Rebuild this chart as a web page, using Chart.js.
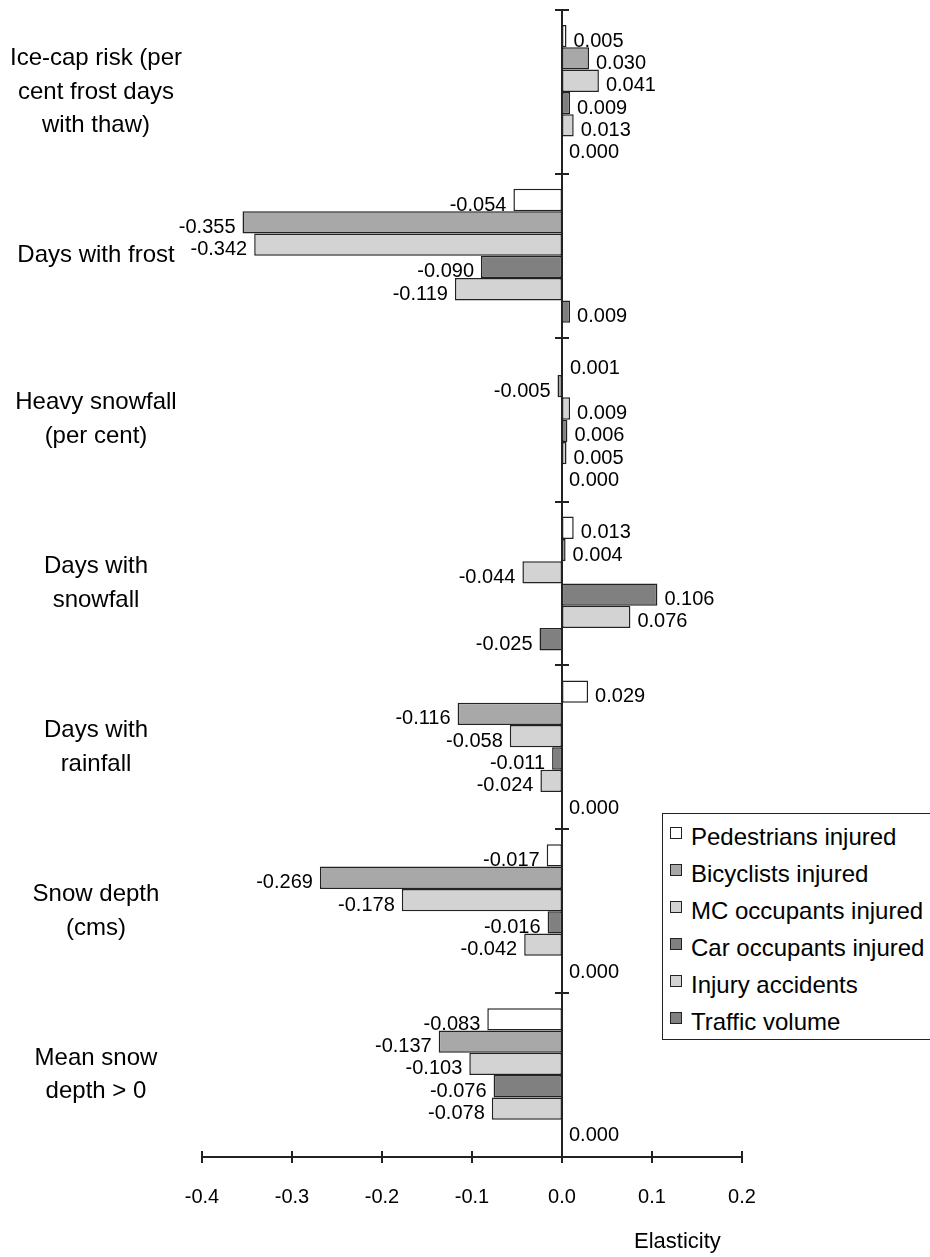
<!DOCTYPE html>
<html>
<head>
<meta charset="utf-8">
<title>Elasticity</title>
<script src="https://cdn.jsdelivr.net/npm/chart.js@4"></script>
<style>
    body { margin: 0; background: #fff; overflow: hidden; }
    #wrap { position: relative; width: 930px; height: 1257px; }
    #legendBox {
        position: absolute; left: 662px; top: 813px; width: 300px; height: 227px;
        border: 1.5px solid #222; background: #fff; padding-top: 4px; box-sizing: border-box;
        font-family: "Liberation Sans", Arial, sans-serif; font-size: 24px; color: #000;
    }
    .legend-row { display: flex; align-items: center; height: 37px; white-space: nowrap; }
    .legend-swatch {
        width: 10px; height: 10px; border: 1.5px solid #222; margin-left: 7px; margin-right: 9px;
        position: relative; top: -4px; flex: none;
    }
</style>
</head>
<body>
<div id="wrap">
    <canvas id="elasticityChart" width="930" height="1257"></canvas>
    <div id="legendBox"></div>
</div>
<script>
const categories = [
    ['Ice-cap risk (per', 'cent frost days', 'with thaw)'],
    'Days with frost',
    ['Heavy snowfall', '(per cent)'],
    ['Days with', 'snowfall'],
    ['Days with', 'rainfall'],
    ['Snow depth', '(cms)'],
    ['Mean snow', 'depth > 0']
];
const seriesNames = ['Pedestrians injured', 'Bicyclists injured', 'MC occupants injured',
    'Car occupants injured', 'Injury accidents', 'Traffic volume'];
const pedestrians = [0.005, -0.054, 0.001, 0.013, 0.029, -0.017, -0.083];
const bicyclists = [0.030, -0.355, -0.005, 0.004, -0.116, -0.269, -0.137];
const mcOccupants = [0.041, -0.342, 0.009, -0.044, -0.058, -0.178, -0.103];
const carOccupants = [0.009, -0.090, 0.006, 0.106, -0.011, -0.016, -0.076];
const injuryAccidents = [0.013, -0.119, 0.005, 0.076, -0.024, -0.042, -0.078];
const trafficVolume = [0.000, 0.009, 0.000, -0.025, 0.000, 0.000, 0.000];
const xTicks = [-0.4, -0.3, -0.2, -0.1, 0.0, 0.1, 0.2];

const fills = ['#ffffff', '#a8a8a8', '#d3d3d3', '#808080', '#d3d3d3', '#808080'];
const allSeries = [pedestrians, bicyclists, mcOccupants, carOccupants, injuryAccidents, trafficVolume];
const ink = '#222';

document.addEventListener('DOMContentLoaded', function() {
    const ctx = document.getElementById('elasticityChart').getContext('2d');
    Chart.defaults.font.family = '"Liberation Sans", Arial, sans-serif';
    Chart.defaults.color = '#000';

    // legend box sits inside the plot, bottom right
    const legendBox = document.getElementById('legendBox');
    seriesNames.forEach((name, i) => {
        const row = document.createElement('div');
        row.className = 'legend-row';
        const sw = document.createElement('span');
        sw.className = 'legend-swatch';
        sw.style.background = fills[i];
        row.appendChild(sw);
        row.appendChild(document.createTextNode(name));
        legendBox.appendChild(row);
    });

    const axesPlugin = {
        id: 'axesAndLabels',
        beforeDatasetsDraw(chart) {
            // value labels go under the bars, as in the original
            const c = chart.ctx;
            c.save();
            c.font = '20px "Liberation Sans", Arial, sans-serif';
            c.fillStyle = '#000';
            c.textBaseline = 'middle';
            chart.data.datasets.forEach((ds, di) => {
                const meta = chart.getDatasetMeta(di);
                meta.data.forEach((bar, i) => {
                    const v = ds.data[i];
                    const txt = v.toFixed(3);
                    if (v < 0) {
                        c.textAlign = 'right';
                        c.fillText(txt, bar.x - 7, bar.y + 5);
                    } else {
                        c.textAlign = 'left';
                        c.fillText(txt, bar.x + 7, bar.y + 5);
                    }
                });
            });
            c.restore();
        },
        afterDatasetsDraw(chart) {
            const c = chart.ctx;
            const xs = chart.scales.x;
            const area = chart.chartArea;
            const x0 = xs.getPixelForValue(0);
            const n = categories.length;
            const band = (area.bottom - area.top) / n;
            c.save();
            c.strokeStyle = ink;
            c.lineWidth = 2;
            c.beginPath();
            c.moveTo(x0, area.top);
            c.lineTo(x0, area.bottom);
            for (let i = 0; i < n; i++) {
                const y = Math.round(area.top + i * band);
                c.moveTo(x0 - 7, y);
                c.lineTo(x0 + 7, y);
            }
            c.moveTo(xs.left, area.bottom);
            c.lineTo(xs.right, area.bottom);
            xTicks.forEach(t => {
                const x = xs.getPixelForValue(t);
                c.moveTo(x, area.bottom - 6);
                c.lineTo(x, area.bottom + 6);
            });
            c.stroke();
            c.font = '22px "Liberation Sans", Arial, sans-serif';
            c.fillStyle = '#000';
            c.textAlign = 'left';
            c.textBaseline = 'middle';
            c.fillText('Elasticity', 634, 1242);
            c.restore();
        }
    };

    new Chart(ctx, {
        type: 'bar',
        data: {
            labels: categories,
            datasets: allSeries.map((vals, i) => ({
                label: seriesNames[i],
                data: vals,
                backgroundColor: fills[i],
                borderColor: ink,
                borderWidth: 1.5,
                borderSkipped: false,
                categoryPercentage: 0.817,
                barPercentage: 1.0
            }))
        },
        options: {
            indexAxis: 'y',
            responsive: false,
            animation: false,
            layout: { padding: { top: 10, right: 188, left: 0, bottom: 0 } },
            scales: {
                x: {
                    min: -0.4,
                    max: 0.2,
                    afterFit: scale => {
                        scale.height = 100;
                        scale.paddingLeft = 0;
                        scale.paddingRight = 0;
                    },
                    afterBuildTicks: scale => { scale.ticks = xTicks.map(v => ({ value: v })); },
                    grid: { display: false, drawTicks: false },
                    border: { display: false },
                    ticks: {
                        padding: 28,
                        font: { size: 20 },
                        maxRotation: 0,
                        callback: v => (Math.abs(v) < 1e-9 ? '0.0' : v.toFixed(1))
                    }
                },
                y: {
                    afterFit: scale => {
                        scale.width = 202;
                        scale.paddingTop = 0;
                        scale.paddingBottom = 0;
                    },
                    grid: { display: false, drawTicks: false },
                    border: { display: false },
                    ticks: {
                        padding: 20,
                        crossAlign: 'center',
                        font: { size: 24, lineHeight: 1.4 }
                    }
                }
            },
            plugins: {
                legend: { display: false },
                tooltip: { enabled: false }
            }
        },
        plugins: [axesPlugin]
    });
});
</script>
</body>
</html>
